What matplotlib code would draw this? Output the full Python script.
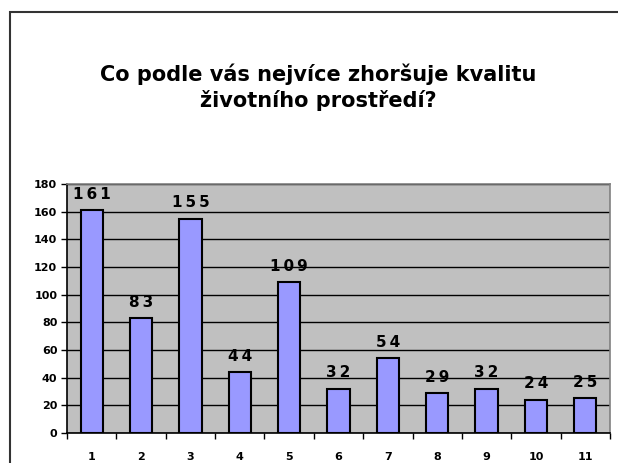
import numpy as np
import matplotlib.pyplot as plt
from matplotlib.patches import Rectangle

# Data
categories = ['1', '2', '3', '4', '5', '6', '7', '8', '9', '10', '11']
counts = [161, 83, 155, 44, 109, 32, 54, 29, 32, 24, 25]
title = 'Co podle vás nejvíce zhoršuje kvalitu\nživotního prostředí?'

fig = plt.figure(figsize=(6.18, 4.63), dpi=100)
fig.patch.set_facecolor('white')

# outer chart border (runs off the right and bottom edge)
fig.patches.append(Rectangle((10 / 618, -0.2), 1.2, 0.2 + 1 - 12 / 463,
                             transform=fig.transFigure, fill=False,
                             edgecolor='#333333', linewidth=1.5))

ax = fig.add_axes([67 / 618, 30 / 463, 543 / 618, 249 / 463])
ax.set_facecolor('#C0C0C0')

X = np.arange(len(categories))
ax.bar(X, counts, width=0.45, color='#9999FF', edgecolor='black',
       linewidth=1.5, zorder=3)

for x, v in zip(X, counts):
    ax.annotate('\u2009'.join(str(v)), (x, v), xytext=(0, 6),
                textcoords='offset points', ha='center', va='bottom',
                fontsize=11, fontweight='bold', zorder=4, annotation_clip=False)

ax.set_xlim(-0.5, len(categories) - 0.5)
ax.set_ylim(0, 180)
ax.set_yticks(np.arange(0, 181, 20))
ax.yaxis.grid(True, color='black', linewidth=1, zorder=0)
ax.set_axisbelow(True)

ax.set_xticks(X)
ax.set_xticklabels(categories)
ax.set_xticks(np.arange(-0.5, len(categories)), minor=True)
ax.tick_params(axis='x', which='major', length=0, pad=14)
ax.tick_params(axis='x', which='minor', length=4, width=1, direction='out')
ax.tick_params(axis='y', length=4, width=1, direction='out', pad=3)

for label in ax.get_xticklabels() + ax.get_yticklabels():
    label.set_fontsize(8)
    label.set_fontweight('bold')

ax.spines['left'].set_color('black')
ax.spines['bottom'].set_color('black')
ax.spines['top'].set_color('#808080')
ax.spines['right'].set_color('#808080')
for s in ax.spines.values():
    s.set_linewidth(1.2)

fig.text(0.515, 0.812, title, ha='center', va='center', fontsize=15,
         fontweight='bold', linespacing=1.3)

fig.savefig('out.png', dpi=100)
